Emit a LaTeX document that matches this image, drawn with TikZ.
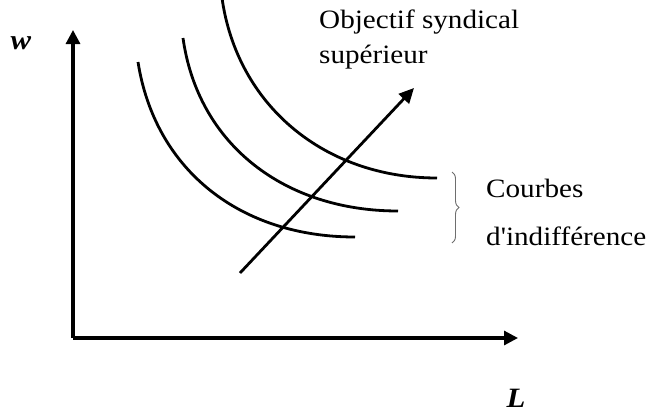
\documentclass[tikz,border=0pt]{standalone}
\usepackage{fontspec}
\setmainfont{Liberation Serif}
\usepackage{graphicx}
\usepackage{tikz}
\usetikzlibrary{arrows.meta,positioning,decorations.pathreplacing}
\definecolor{bracegray}{RGB}{110, 110, 110}
\newcommand{\widetext}[1]{\scalebox{1.1}[1]{#1}}

\begin{document}
\begin{tikzpicture}[x=1pt, y=-1pt]
    \tikzstyle{axis} = [line width=3.1pt, -{Triangle[length=14pt, width=14pt]}]
    \tikzstyle{icurve} = [line width=2.8pt]
    \tikzstyle{label} = [font=\fontsize{26.5}{30}\selectfont, anchor=base west, inner sep=0pt]
    \tikzstyle{axlabel} = [font=\fontsize{28}{30}\selectfont\bfseries\itshape, inner sep=0pt]

    \useasboundingbox (0, 0) rectangle (650, 415);

    \coordinate (origin) at (73, 338);
    \coordinate (wtop) at (73, 30);
    \coordinate (lend) at (518, 338);
    \node[axlabel] (wlab) at (21, 43) {\widetext{w}};
    \node[axlabel] (llab) at (516, 398) {\widetext{L}};

    \draw[axis] (origin) -- (wtop);
    \draw[axis] (origin) -- (lend);

    % Indifference curves
    \coordinate (c1a) at (138, 62);
    \coordinate (c1b) at (355, 237);
    \coordinate (c2a) at (183, 38);
    \coordinate (c2b) at (398, 211);
    \coordinate (c3a) at (222, -2);
    \coordinate (c3b) at (437, 178);
    \draw[icurve] (c1a) .. controls (155, 170) and (240, 237) .. (c1b);
    \draw[icurve] (c2a) .. controls (198, 145) and (285, 211) .. (c2b);
    \draw[icurve] (c3a) .. controls (237, 105) and (324, 178) .. (c3b);

    % Union objective
    \coordinate (obja) at (240, 273);
    \coordinate (objb) at (414, 88);
    \draw[line width=2.8pt, -{Triangle[length=15pt, width=14pt]}] (obja) -- (objb);
    \node[label] (objtop) at (319, 28) {\widetext{Objectif syndical}};
    \node[label] (objbot) at (319, 63) {\widetext{supérieur}};

    % Brace
    \coordinate (brtop) at (452, 172);
    \coordinate (brbot) at (452, 243);
    \draw[bracegray, line width=0.9pt, decorate, decoration={brace, amplitude=7pt}] (brtop) -- (brbot);
    \node[label] (crbtop) at (486, 197) {\widetext{Courbes}};
    \node[label] (crbbot) at (486, 245) {\widetext{d\textquotesingle indifférence}};
\end{tikzpicture}
\end{document}
